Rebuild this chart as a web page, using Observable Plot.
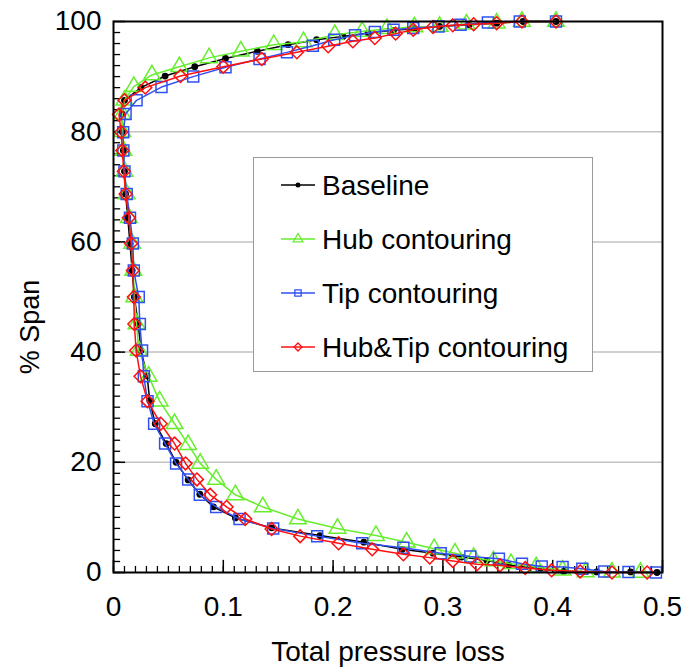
<!DOCTYPE html>
<html><head><meta charset="utf-8">
<script src="https://cdn.jsdelivr.net/npm/d3@7"></script>
<script src="https://cdn.jsdelivr.net/npm/@observablehq/plot@0.6"></script>
<style>
body{margin:0;background:#fff;}
#wrap{position:relative;width:696px;height:668px;font-family:"Liberation Sans",Arial,sans-serif;}
#legend{position:absolute;left:253px;top:157px;}
</style></head><body><div id="wrap"></div>
<script>
// ---- data ----
const seriesNames = ["Baseline", "Hub contouring", "Tip contouring", "Hub&Tip contouring"];
const seriesColors = ["#000000", "#66ee2e", "#3050f0", "#ff1010"];
const seriesSymbols = ["circle", "triangle", "square", "diamond2"];

const baselineX = [0.403,0.373,0.349,0.324,0.297,0.274,0.255,0.232,0.209,0.185,0.159,0.131,0.102,0.074,0.047,0.025,0.010,0.008,0.008,0.009,0.010,0.011,0.013,0.015,0.017,0.019,0.0225,0.025,0.0306,0.033,0.038,0.048,0.057,0.068,0.0786,0.091,0.111,0.144,0.188,0.228,0.263,0.291,0.317,0.340,0.360,0.389,0.410,0.440,0.471,0.495];
const baselineY = [100,100,99.7,99.4,99.1,98.7,98.4,97.9,97.3,96.7,95.8,94.6,93.3,91.8,90.1,88.0,85.7,83.2,80.0,76.6,72.8,68.7,64.4,59.7,54.8,50.0,45.1,40.3,35.7,31.2,27.0,23.4,20.0,16.8,14.2,11.9,9.9,8.1,6.7,5.5,4.2,3.5,2.8,2.2,1.3,0.7,0.2,0.1,0.1,0];

const hubX = [0.403,0.372,0.349,0.3215,0.297,0.274,0.249,0.2265,0.2016,0.173,0.146,0.116,0.087,0.060,0.035,0.0185,0.010,0.008,0.008,0.009,0.010,0.012,0.014,0.017,0.018,0.019,0.021,0.023,0.032,0.042,0.0556,0.068,0.079,0.0935,0.111,0.136,0.168,0.204,0.239,0.267,0.292,0.311,0.328,0.346,0.362,0.385,0.409,0.430,0.454,0.480];
const hubY = [100,100,99.7,99.5,99.1,99.0,98.7,98.2,97.6,96.3,95.8,94.6,93.4,91.8,90.3,88.2,85.7,83.2,80.0,76.6,72.8,68.7,64.4,59.7,54.8,50.0,45.1,40.3,35.6,31.1,27.0,23.2,19.8,16.9,14.1,11.9,9.7,8.0,6.7,5.5,4.3,3.5,2.7,2.1,1.6,1.0,0.4,0.1,0.05,0];

const tipX = [0.403,0.370,0.341,0.316,0.296,0.273,0.255,0.238,0.220,0.201,0.1815,0.158,0.133,0.102,0.0726,0.0437,0.021,0.011,0.0088,0.009,0.010,0.012,0.015,0.0176,0.0185,0.023,0.024,0.026,0.0276,0.031,0.037,0.047,0.057,0.068,0.0786,0.0935,0.1148,0.1454,0.1855,0.2265,0.264,0.298,0.325,0.351,0.372,0.390,0.409,0.427,0.447,0.469,0.494];
const tipY = [100,100,99.8,99.4,99.1,98.8,98.5,98.1,97.5,96.7,95.6,94.4,93.2,91.7,90.0,88.1,85.7,83.2,79.9,76.6,72.8,68.7,64.4,59.7,54.8,50.0,45.1,40.3,35.6,31.1,27.0,23.4,19.8,16.9,14.1,11.9,9.7,8.0,6.6,5.3,4.5,3.5,2.9,2.5,1.6,1.1,1.0,0.7,0.2,0.1,0];

const hubTipX = [0.403,0.372,0.349,0.328,0.309,0.291,0.273,0.257,0.238,0.218,0.1955,0.167,0.135,0.100,0.061,0.029,0.010,0.005,0.007,0.008,0.0094,0.011,0.014,0.016,0.0176,0.0185,0.019,0.0206,0.0246,0.031,0.043,0.0556,0.0656,0.076,0.088,0.103,0.120,0.144,0.170,0.205,0.2356,0.264,0.288,0.309,0.331,0.352,0.375,0.399,0.425,0.454,0.486];
const hubTipY = [100,100,99.7,99.5,99.3,99.0,98.5,97.8,97.0,96.4,95.5,94.4,93.2,91.8,90.1,88.0,85.7,83.1,79.9,76.6,72.8,68.7,64.4,59.7,54.8,50.0,45.1,40.3,35.6,31.1,27.0,23.4,19.8,16.9,14.1,11.9,9.7,7.9,6.6,5.3,4.2,3.3,2.7,2.1,1.5,1.3,0.8,0.4,0.2,0,0];

const xTicks = [0, 0.1, 0.2, 0.3, 0.4, 0.5];
const yTicks = [0, 20, 40, 60, 80, 100];
const yGrid = [20, 40, 60, 80];
const xMinorTicks = d3.range(0, 50).map(i => i / 100);
const yMinorTicks = d3.range(0, 50).map(i => i * 2);
const xTitle = "Total pressure loss";
const yTitle = "% Span";

// ---- build table ----
const xs = [baselineX, hubX, tipX, hubTipX];
const ys = [baselineY, hubY, tipY, hubTipY];
const rows = [];
seriesNames.forEach((name, s) => {
  xs[s].forEach((x, i) => rows.push({series: name, x, y: ys[s][i]}));
});

const lineMarks = [];
seriesNames.forEach((name, s) => {
  const d = rows.filter(r => r.series === name);
  lineMarks.push(Plot.line(d, {x: "x", y: "y", stroke: seriesColors[s], strokeWidth: 1.5}));
  if (s === 0) {
    lineMarks.push(Plot.dot(d, {x: "x", y: "y", r: 3.4, fill: "black", stroke: "none"}));
  } else {
    lineMarks.push(Plot.dot(d, {x: "x", y: "y", r: s === 3 ? 5.8 : 6.2, symbol: seriesSymbols[s], fill: "none", stroke: seriesColors[s], strokeWidth: 1.5}));
  }
});

const fmt = d => `${d}`;

const chart = Plot.plot({
  width: 696,
  height: 668,
  marginLeft: 113,
  marginRight: 34,
  marginTop: 21,
  marginBottom: 96,
  style: {fontFamily: "'Liberation Sans', Arial, sans-serif", background: "white", color: "black"},
  x: {domain: [0, 0.5]},
  y: {domain: [0, 100]},
  marks: [
    Plot.ruleY(yGrid, {stroke: "#c2c2c2", strokeWidth: 1.5}),
    Plot.ruleX(xMinorTicks, {x: d => d, y1: 0, y2: 1.1, stroke: "black", strokeWidth: 1.3}),
    Plot.ruleX(xTicks, {x: d => d, y1: 0, y2: 2.2, stroke: "black", strokeWidth: 1.5}),
    Plot.ruleY(yMinorTicks, {y: d => d, x1: 0, x2: 0.0065, stroke: "black", strokeWidth: 1.3}),
    Plot.ruleY(yTicks, {y: d => d, x1: 0, x2: 0.011, stroke: "black", strokeWidth: 1.5}),
    ...lineMarks,
    Plot.frame({stroke: "black", strokeWidth: 2}),
    Plot.axisX({ticks: xTicks, tickFormat: fmt, tickSize: 0, tickPadding: 24, fontSize: 28, label: null}),
    Plot.axisY({ticks: yTicks, tickFormat: fmt, tickSize: 0, tickPadding: 12, fontSize: 28, label: null}),
    Plot.text([xTitle], {text: d => d, frameAnchor: "bottom", lineAnchor: "middle", dy: 80, fontSize: 28, fill: "black"}),
    Plot.text([yTitle], {text: d => d, frameAnchor: "left", textAnchor: "middle", dx: -83, dy: 30, rotate: -90, fontSize: 27, fill: "black"})
  ]
});
document.getElementById("wrap").appendChild(chart);

// ---- legend overlay ----
const lw = 340, lh = 215;
const leg = d3.select("#wrap").append("svg").attr("id", "legend")
  .attr("width", lw).attr("height", lh);
leg.append("rect").attr("x", 0.5).attr("y", 0.5).attr("width", lw - 1).attr("height", lh - 1)
  .attr("fill", "white").attr("stroke", "#9a9a9a").attr("stroke-width", 1);
const symMap = {circle: d3.symbolCircle, triangle: d3.symbolTriangle, square: d3.symbolSquare, diamond2: d3.symbolDiamond2};
seriesNames.forEach((name, i) => {
  const g = leg.append("g").attr("transform", `translate(0,${28 + i * 54})`);
  g.append("line").attr("x1", 28).attr("x2", 62).attr("y1", 0).attr("y2", 0)
    .attr("stroke", seriesColors[i]).attr("stroke-width", 1.5);
  if (i === 0) {
    g.append("circle").attr("cx", 45).attr("cy", 0).attr("r", 2.5).attr("fill", "black");
  } else {
    g.append("path").attr("transform", "translate(45,0)")
      .attr("d", d3.symbol(symMap[seriesSymbols[i]], 40)())
      .attr("fill", "none").attr("stroke", seriesColors[i]).attr("stroke-width", 1.3);
  }
  g.append("text").attr("x", 69).attr("y", 0).attr("dy", "0.35em")
    .attr("font-size", 28).attr("fill", "black")
    .attr("font-family", "'Liberation Sans', Arial, sans-serif").text(name);
});
</script></body></html>
